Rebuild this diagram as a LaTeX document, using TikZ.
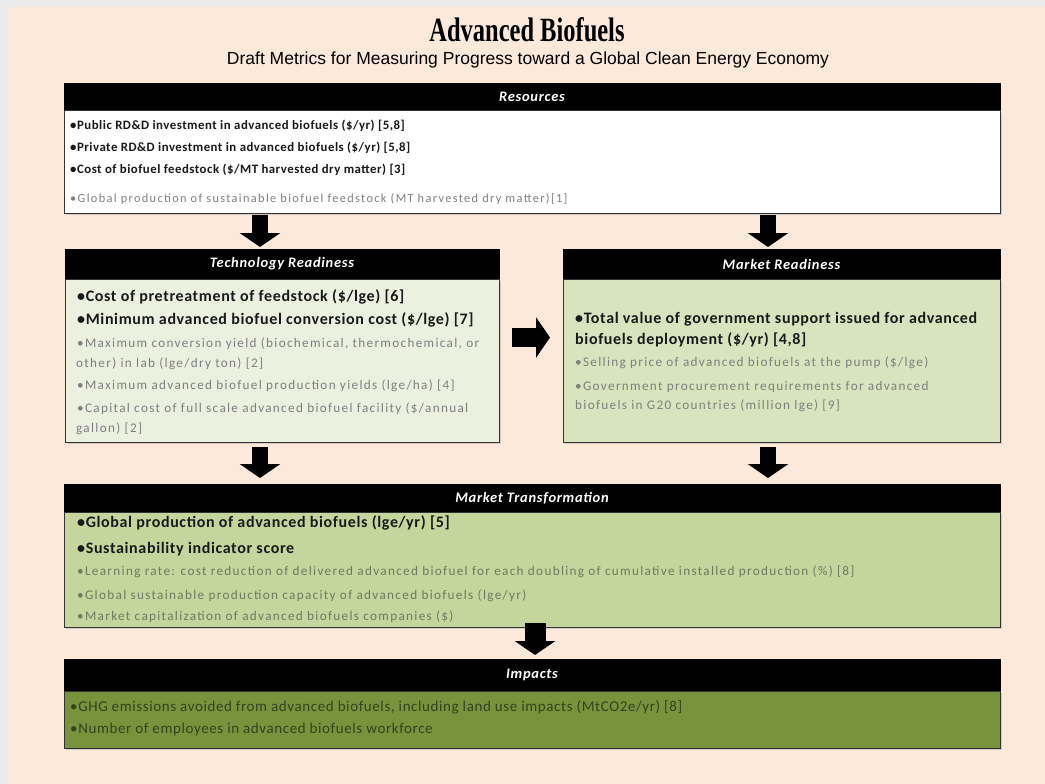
\documentclass[tikz,border=0pt]{standalone}
\usepackage{fontspec}
\setmainfont{Carlito}
\newfontfamily\titlefont[FakeStretch=0.72]{Liberation Serif}
\newfontfamily\subfont{Liberation Sans}
\newfontfamily\spacedfont[LetterSpace=4]{Carlito}
\newfontfamily\greyfont[LetterSpace=10]{Carlito}
\newfontfamily\resgreyfont[LetterSpace=11]{Carlito}
\newfontfamily\hdrfont[LetterSpace=5]{Carlito}
\usepackage{tikz}
\usetikzlibrary{arrows.meta, positioning, calc, shadows}
\definecolor{peach}{HTML}{FDE9D9}
\definecolor{techc}{HTML}{EBF1DE}
\definecolor{mrc}{HTML}{D7E4BD}
\definecolor{mtc}{HTML}{C3D69B}
\definecolor{impc}{HTML}{77933C}
\definecolor{lightc}{HTML}{7F7F7F}
\definecolor{mtlight}{HTML}{6F7A62}
\definecolor{imptxt}{HTML}{34421E}

\begin{document}
\begin{tikzpicture}[x=1pt, y=1pt,
    hdr/.style={draw=black, fill=black, text=white, inner sep=0pt,
                outer sep=0pt, anchor=north west,
                font=\hdrfont\bfseries\itshape\fontsize{14.5}{16}\selectfont},
    bodybox/.style={draw=black!80, line width=1pt, inner sep=0pt,
                outer sep=0pt, anchor=north west,
                drop shadow={shadow xshift=1.5pt, shadow yshift=-1.5pt,
                             opacity=0.3}},
    boldline/.style={anchor=west, inner sep=0pt, text=black!90,
                font=\spacedfont\bfseries\fontsize{16}{18}\selectfont},
    greyline/.style={anchor=west, inner sep=0pt, text=lightc,
                font=\greyfont\fontsize{13.2}{15}\selectfont},
    blockarrow/.style={draw=black, line width=16pt,
                -{Triangle[length=14pt, width=40pt]}}]
  \useasboundingbox (0,0) rectangle (1045,-784);
  \fill[black!8] (0,0) rectangle (1045,-784);
  \fill[peach] (7,-7) rectangle (1045,-784);
  % title
  \node (title) at (527,-30) {\titlefont\bfseries\fontsize{34}{36}\selectfont Advanced Biofuels};
  \node (subtitle) at (528,-60) {\subfont\fontsize{17.5}{20}\selectfont Draft Metrics for Measuring Progress toward a Global Clean Energy Economy};
  % Resources
  \node[hdr, minimum width=936pt, minimum height=28pt] (resH) at (64,-83) {Resources};
  \node[bodybox, fill=white, minimum width=936pt, minimum height=102pt] (res) at (resH.south west) {};
  \node[boldline, font=\spacedfont\bfseries\fontsize{12.8}{15}\selectfont] (r1) at (70,-126) {•Public RD\&D investment in advanced biofuels (\$/yr) [5,8]};
  \node[boldline, font=\spacedfont\bfseries\fontsize{12.8}{15}\selectfont] (r2) at (70,-148) {•Private RD\&D investment in advanced biofuels (\$/yr) [5,8]};
  \node[boldline, font=\spacedfont\bfseries\fontsize{12.8}{15}\selectfont] (r3) at (70,-170) {•Cost of biofuel feedstock (\$/MT harvested dry matter) [3]};
  \node[greyline, font=\resgreyfont\fontsize{12.3}{14}\selectfont] (r4) at (70,-199) {•Global production of sustainable biofuel feedstock (MT harvested dry matter)[1]};
  % Technology Readiness
  \node[hdr, minimum width=434pt, minimum height=30pt] (techH) at (65,-249) {Technology Readiness};
  \node[bodybox, fill=techc, minimum width=434pt, minimum height=163pt] (tech) at (techH.south west) {};
  \node[boldline] (t1) at (77,-297) {•Cost of pretreatment of feedstock (\$/lge) [6]};
  \node[boldline] (t2) at (77,-320) {•Minimum advanced biofuel conversion cost (\$/lge) [7]};
  \node[greyline] (t3) at (77,-344) {•Maximum conversion yield (biochemical, thermochemical, or};
  \node[greyline] (t3b) at (76,-364) {other) in lab (lge/dry ton) [2]};
  \node[greyline] (t4) at (77,-386) {•Maximum advanced biofuel production yields (lge/ha) [4]};
  \node[greyline] (t5) at (77,-409) {•Capital cost of full scale advanced biofuel facility (\$/annual};
  \node[greyline] (t5b) at (76,-429) {gallon) [2]};
  % Market Readiness
  \node[hdr, minimum width=437pt, minimum height=30pt] (mrH) at (563,-249) {Market Readiness};
  \node[bodybox, fill=mrc, minimum width=437pt, minimum height=163pt] (mr) at (mrH.south west) {};
  \node[boldline] (m1) at (575,-319) {•Total value of government support issued for advanced};
  \node[boldline] (m1b) at (575,-340) {biofuels deployment (\$/yr) [4,8]};
  \node[greyline] (m2) at (575,-363) {•Selling price of advanced biofuels at the pump (\$/lge)};
  \node[greyline] (m3) at (575,-387) {•Government procurement requirements for advanced};
  \node[greyline] (m3b) at (575,-406) {biofuels in G20 countries (million lge) [9]};
  % Market Transformation
  \node[hdr, minimum width=936pt, minimum height=28pt] (mtH) at (64,-484) {Market Transformation};
  \node[bodybox, fill=mtc, minimum width=936pt, minimum height=115pt] (mt) at (mtH.south west) {};
  \node[boldline] (x1) at (77,-523) {•Global production of advanced biofuels (lge/yr) [5]};
  \node[boldline] (x2) at (77,-549) {•Sustainability indicator score};
  \node[greyline, text=mtlight] (x3) at (77,-572) {•Learning rate: cost reduction of delivered advanced biofuel for each doubling of cumulative installed production (\%) [8]};
  \node[greyline, text=mtlight] (x4) at (77,-596) {•Global sustainable production capacity of advanced biofuels (lge/yr)};
  \node[greyline, text=mtlight] (x5) at (77,-617) {•Market capitalization of advanced biofuels companies (\$)};
  % Impacts
  \node[hdr, minimum width=936pt, minimum height=32pt] (impH) at (64,-659) {Impacts};
  \node[bodybox, fill=impc, minimum width=936pt, minimum height=57pt] (imp) at (impH.south west) {};
  \node[greyline, text=imptxt, font=\spacedfont\fontsize{15}{17}\selectfont] (i1) at (70,-707) {•GHG emissions avoided from advanced biofuels, including land use impacts (MtCO2e/yr) [8]};
  \node[greyline, text=imptxt, font=\spacedfont\fontsize{15}{17}\selectfont] (i2) at (70,-729) {•Number of employees in advanced biofuels workforce};
  % arrows
  \draw[blockarrow, shorten <=2pt, shorten >=2pt]
    ($(res.south -| techH.north)+(-22,0)$) -- ($(techH.north)+(-22,0)$);
  \draw[blockarrow, shorten <=2pt, shorten >=2pt]
    ($(res.south -| mrH.north)+(-13.5,0)$) -- ($(mrH.north)+(-13.5,0)$);
  \draw[blockarrow, line width=19pt, shorten <=13pt, shorten >=13pt]
    ($(tech.east)+(0,23)$) -- ($(tech.east -| mr.west)+(0,23)$);
  \draw[blockarrow, shorten <=5pt, shorten >=6pt]
    ($(tech.south)+(-22,0)$) -- ($(tech.south |- mtH.north)+(-22,0)$);
  \draw[blockarrow, shorten <=5pt, shorten >=6pt]
    ($(mr.south)+(-13.5,0)$) -- ($(mr.south |- mtH.north)+(-13.5,0)$);
  \draw[blockarrow, line width=21pt, shorten <=-4pt, shorten >=4pt]
    ($(mt.south)+(3,0)$) -- ($(impH.north)+(3,0)$);
\end{tikzpicture}
\end{document}
